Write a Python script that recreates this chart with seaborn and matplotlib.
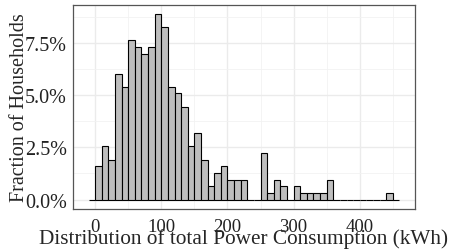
import numpy as np
import pandas as pd
import matplotlib
matplotlib.use("Agg")
import matplotlib.pyplot as plt
import seaborn as sns
from matplotlib.ticker import PercentFormatter, MultipleLocator

# bin edges (kWh) and household counts per 10 kWh bin
bin_edges = list(range(-10, 461, 10))
bin_left = [0, 10, 20, 30, 40, 50, 60, 70, 80, 90, 100, 110, 120, 130, 140,
            150, 160, 170, 180, 190, 200, 210, 220, 250, 260, 270, 280, 300,
            310, 320, 330, 340, 350, 440]
counts = [5, 8, 6, 19, 17, 24, 23, 22, 23, 28, 26, 17, 16, 14, 8,
          10, 6, 2, 4, 5, 3, 3, 3, 7, 1, 3, 2, 2,
          1, 1, 1, 1, 3, 1]

x_ticks = [0, 100, 200, 300, 400]
y_ticks = [0.0, 0.025, 0.05, 0.075]

df = pd.DataFrame({"kwh": [b + 5 for b in bin_left], "n": counts})

sns.set_style("whitegrid")
plt.rcParams["font.family"] = ["Liberation Serif", "DejaVu Serif"]

fig, ax = plt.subplots(figsize=(4.52, 2.53), dpi=100)
fig.subplots_adjust(left=73 / 452, right=415 / 452, bottom=1 - 209.7 / 253, top=1 - 5.7 / 253)

sns.histplot(data=df, x="kwh", weights="n", bins=bin_edges, stat="probability",
             color="#BEBEBE", edgecolor="black", linewidth=0.8, alpha=1, ax=ax)

ax.set_xlim(-33.5, 483.5)
ax.set_ylim(-0.0044, 0.0933)
ax.set_xticks(x_ticks)
ax.set_yticks(y_ticks)
ax.xaxis.set_minor_locator(MultipleLocator(50))
ax.yaxis.set_minor_locator(MultipleLocator(0.0125))
ax.yaxis.set_major_formatter(PercentFormatter(1.0, decimals=1))

ax.grid(which="major", color="#EBEBEB", linewidth=1.0)
ax.grid(which="minor", color="#F2F2F2", linewidth=0.6)
ax.set_axisbelow(True)
for s in ax.spines.values():
    s.set_color("#555555")
    s.set_linewidth(0.9)
ax.tick_params(which="major", length=3, width=0.8, color="#333333",
               labelcolor="#222222")
ax.tick_params(axis="y", labelsize=14.5, pad=1.5)
ax.tick_params(axis="x", labelsize=13.5, pad=3.5)
ax.tick_params(which="minor", length=0)

ax.set_xlabel("Distribution of total Power Consumption (kWh)", fontsize=15.3, labelpad=-5)
ax.set_ylabel("Fraction of Households", fontsize=14.5, labelpad=-3)

fig.savefig("out.png", dpi=100)
